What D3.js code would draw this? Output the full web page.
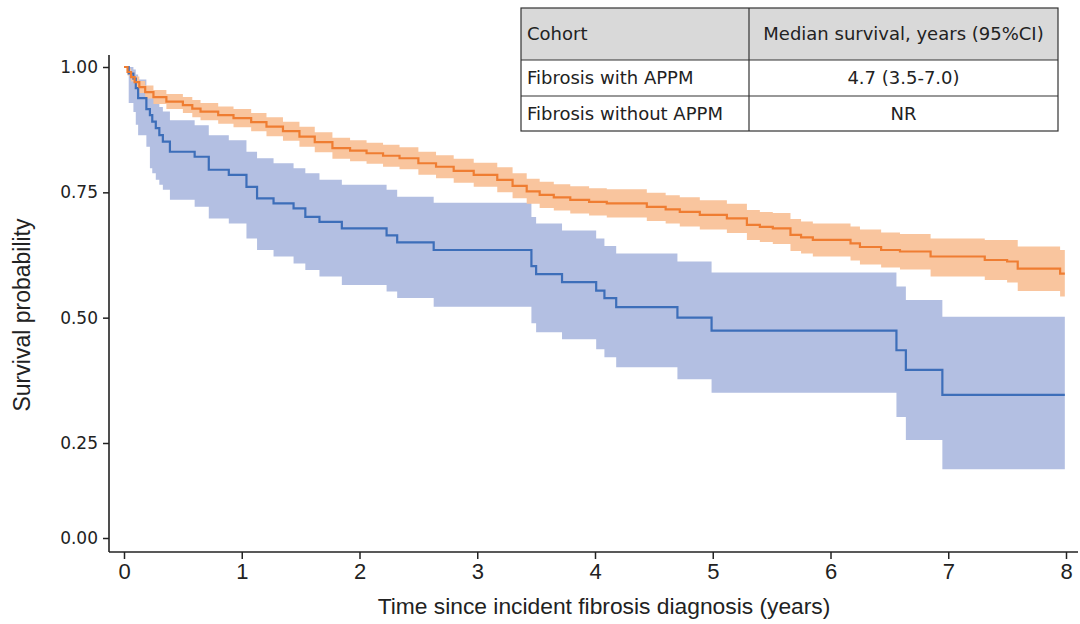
<!DOCTYPE html>
<html>
<head>
<meta charset="utf-8">
<script src="https://cdn.jsdelivr.net/npm/d3@7"></script>
<style>
  html, body { margin: 0; padding: 0; background: #fff; }
  svg { display: block; }
</style>
</head>
<body>
<svg id="chart" width="1080" height="624"></svg>
<script>
// ---------- DATA ----------
const xTicks = [0, 1, 2, 3, 4, 5, 6, 7, 8];
const yTicks = [0, 0.25, 0.5, 0.75, 1];
const endTime = 7.99;

// Fibrosis with APPM (blue)
const appmTime  = [0.00, 0.04, 0.08, 0.10, 0.12, 0.19, 0.22, 0.24, 0.27, 0.30, 0.33, 0.39, 0.60, 0.72, 0.89, 1.04, 1.13, 1.27, 1.44, 1.54, 1.66, 1.85, 2.23, 2.32, 2.63, 3.46, 3.50, 3.72, 4.01, 4.08, 4.18, 4.70, 4.99, 6.56, 6.64, 6.95];
const appmSurv  = [1.000, 0.987, 0.977, 0.958, 0.938, 0.916, 0.904, 0.891, 0.878, 0.864, 0.851, 0.831, 0.821, 0.795, 0.785, 0.761, 0.738, 0.728, 0.718, 0.701, 0.691, 0.678, 0.664, 0.650, 0.635, 0.603, 0.587, 0.571, 0.554, 0.539, 0.521, 0.500, 0.474, 0.435, 0.396, 0.346];
const appmLower = [1.000, 0.928, 0.910, 0.885, 0.864, 0.841, 0.798, 0.788, 0.775, 0.765, 0.755, 0.735, 0.721, 0.698, 0.688, 0.658, 0.635, 0.622, 0.608, 0.595, 0.582, 0.565, 0.552, 0.539, 0.522, 0.489, 0.471, 0.457, 0.437, 0.421, 0.401, 0.377, 0.350, 0.302, 0.256, 0.181];
const appmUpper = [1.000, 1.000, 0.995, 0.985, 0.975, 0.960, 0.950, 0.940, 0.930, 0.920, 0.911, 0.894, 0.884, 0.864, 0.854, 0.831, 0.818, 0.808, 0.798, 0.788, 0.775, 0.765, 0.755, 0.741, 0.729, 0.701, 0.688, 0.674, 0.658, 0.643, 0.628, 0.612, 0.590, 0.562, 0.535, 0.502];

// Fibrosis without APPM (orange)
const noAppmTime  = [0.00, 0.03, 0.06, 0.09, 0.13, 0.18, 0.25, 0.36, 0.50, 0.58, 0.65, 0.80, 0.93, 1.08, 1.21, 1.35, 1.49, 1.62, 1.77, 1.92, 2.06, 2.20, 2.34, 2.50, 2.65, 2.80, 2.97, 3.17, 3.30, 3.42, 3.53, 3.65, 3.79, 3.95, 4.10, 4.44, 4.60, 4.72, 4.89, 5.12, 5.29, 5.40, 5.51, 5.66, 5.75, 5.85, 6.17, 6.25, 6.43, 6.59, 6.85, 7.31, 7.50, 7.59, 7.95];
const noAppmSurv  = [1.000, 0.990, 0.980, 0.970, 0.960, 0.950, 0.940, 0.931, 0.924, 0.917, 0.911, 0.904, 0.898, 0.890, 0.881, 0.872, 0.861, 0.850, 0.838, 0.833, 0.828, 0.823, 0.818, 0.808, 0.801, 0.793, 0.785, 0.775, 0.763, 0.752, 0.745, 0.740, 0.735, 0.731, 0.728, 0.721, 0.716, 0.711, 0.705, 0.698, 0.685, 0.681, 0.678, 0.665, 0.660, 0.655, 0.648, 0.641, 0.635, 0.632, 0.622, 0.615, 0.612, 0.598, 0.588];
const noAppmLower = [1.000, 0.983, 0.971, 0.959, 0.948, 0.937, 0.926, 0.916, 0.908, 0.900, 0.894, 0.887, 0.880, 0.872, 0.862, 0.853, 0.841, 0.830, 0.817, 0.812, 0.807, 0.801, 0.796, 0.785, 0.778, 0.769, 0.761, 0.750, 0.738, 0.727, 0.719, 0.714, 0.708, 0.704, 0.700, 0.693, 0.688, 0.682, 0.676, 0.669, 0.655, 0.651, 0.647, 0.633, 0.628, 0.622, 0.614, 0.606, 0.600, 0.596, 0.582, 0.575, 0.570, 0.553, 0.542];
const noAppmUpper = [1.000, 0.997, 0.989, 0.981, 0.972, 0.963, 0.954, 0.946, 0.940, 0.934, 0.928, 0.921, 0.916, 0.908, 0.900, 0.891, 0.881, 0.870, 0.859, 0.854, 0.849, 0.845, 0.840, 0.831, 0.824, 0.817, 0.809, 0.800, 0.788, 0.777, 0.771, 0.766, 0.762, 0.758, 0.756, 0.749, 0.744, 0.740, 0.734, 0.727, 0.715, 0.711, 0.709, 0.697, 0.692, 0.688, 0.682, 0.676, 0.670, 0.667, 0.658, 0.655, 0.655, 0.642, 0.635];

// Table
const tableHeader = ["Cohort", "Median survival, years (95%CI)"];
const tableCohorts = ["Fibrosis with APPM", "Fibrosis without APPM"];
const tableMedians = ["4.7 (3.5-7.0)", "NR"];

const xTitle = "Time since incident fibrosis diagnosis (years)";
const yTitle = "Survival probability";

// ---------- CHART ----------
const svg = d3.select("#chart");
const x = d3.scaleLinear().domain([0, 8]).range([124, 1066]);
const y = d3.scaleLinear().domain([0, 0.25, 1]).range([538, 443, 67]);

function series(t, s, lo, hi) {
  const d = t.map((tt, i) => ({ t: tt, s: s[i], lo: lo[i], hi: hi[i] }));
  const last = d[d.length - 1];
  d.push({ t: endTime, s: last.s, lo: last.lo, hi: last.hi });
  return d;
}
const blue = series(appmTime, appmSurv, appmLower, appmUpper);
const orange = series(noAppmTime, noAppmSurv, noAppmLower, noAppmUpper);

const area = d3.area().curve(d3.curveStepAfter)
  .x(d => x(d.t)).y0(d => y(d.lo)).y1(d => y(d.hi));
const line = d3.line().curve(d3.curveStepAfter)
  .x(d => x(d.t)).y(d => y(d.s));

svg.append("path").datum(blue).attr("d", area).attr("fill", "#b3bfe2");
svg.append("path").datum(orange).attr("d", area).attr("fill", "#f9c59e");
svg.append("path").datum(blue).attr("d", line).attr("fill", "none")
  .attr("stroke", "#3d6eb9").attr("stroke-width", 2.2);
svg.append("path").datum(orange).attr("d", line).attr("fill", "none")
  .attr("stroke", "#ef7d32").attr("stroke-width", 2.2);

// Axes
const axisX = 109, axisY = 552;
const xAxis = svg.append("g").attr("transform", `translate(0,${axisY})`)
  .call(d3.axisBottom(x).tickValues(xTicks).tickFormat(d3.format("d")).tickSize(7).tickSizeOuter(0).tickPadding(4));
xAxis.select(".domain").attr("d", `M${axisX},0H1078`);
xAxis.selectAll("line").attr("stroke", "#222").attr("stroke-width", 1.5);
xAxis.select(".domain").attr("stroke", "#222").attr("stroke-width", 1.6);
xAxis.selectAll("text").attr("font-family", "Liberation Sans, Arial, sans-serif")
  .attr("font-size", 22).attr("fill", "#222");

const yAxis = svg.append("g").attr("transform", `translate(${axisX},0)`)
  .call(d3.axisLeft(y).tickValues(yTicks).tickFormat(d3.format(".2f")).tickSize(6).tickSizeOuter(0).tickPadding(5));
yAxis.select(".domain").attr("d", `M0,55V${axisY}`);
yAxis.selectAll("line").attr("stroke", "#222").attr("stroke-width", 1.5);
yAxis.select(".domain").attr("stroke", "#222").attr("stroke-width", 1.6);
yAxis.selectAll("text").attr("font-family", "DejaVu Sans, Verdana, sans-serif")
  .attr("font-size", 17).attr("fill", "#222");

svg.append("text").attr("x", 604).attr("y", 614).attr("text-anchor", "middle")
  .attr("font-family", "Liberation Sans, Arial, sans-serif").attr("font-size", 22.8)
  .attr("fill", "#222").text(xTitle);
svg.append("text").attr("transform", "translate(30,315) rotate(-90)").attr("text-anchor", "middle")
  .attr("font-family", "Liberation Sans, Arial, sans-serif").attr("font-size", 23)
  .attr("fill", "#222").text(yTitle);

// Table
const tbl = svg.append("g");
const colX = [521, 749, 1058];
const rowY = [8, 60, 96, 131];
tbl.append("rect").attr("x", colX[0]).attr("y", rowY[0]).attr("width", colX[2] - colX[0])
  .attr("height", rowY[1] - rowY[0]).attr("fill", "#d9d9d9");
tbl.append("rect").attr("x", colX[0]).attr("y", rowY[0]).attr("width", colX[2] - colX[0])
  .attr("height", rowY[3] - rowY[0]).attr("fill", "none").attr("stroke", "#333").attr("stroke-width", 1.2);
[rowY[1], rowY[2]].forEach(yy => tbl.append("line").attr("x1", colX[0]).attr("x2", colX[2])
  .attr("y1", yy).attr("y2", yy).attr("stroke", "#333").attr("stroke-width", 1.2));
tbl.append("line").attr("x1", colX[1]).attr("x2", colX[1]).attr("y1", rowY[0]).attr("y2", rowY[3])
  .attr("stroke", "#333").attr("stroke-width", 1.2);

const rows = [tableHeader, [tableCohorts[0], tableMedians[0]], [tableCohorts[1], tableMedians[1]]];
rows.forEach((r, i) => {
  const cy = (rowY[i] + rowY[i + 1]) / 2;
  tbl.append("text").attr("x", colX[0] + 6).attr("y", cy).attr("dy", "0.35em")
    .attr("font-family", "DejaVu Sans, Tahoma, sans-serif").attr("font-size", 18).attr("fill", "#222")
    .text(r[0]);
  tbl.append("text").attr("x", (colX[1] + colX[2]) / 2).attr("y", cy).attr("dy", "0.35em")
    .attr("text-anchor", "middle")
    .attr("font-family", "DejaVu Sans, Tahoma, sans-serif").attr("font-size", 18).attr("fill", "#222")
    .text(r[1]);
});
</script>
</body>
</html>
